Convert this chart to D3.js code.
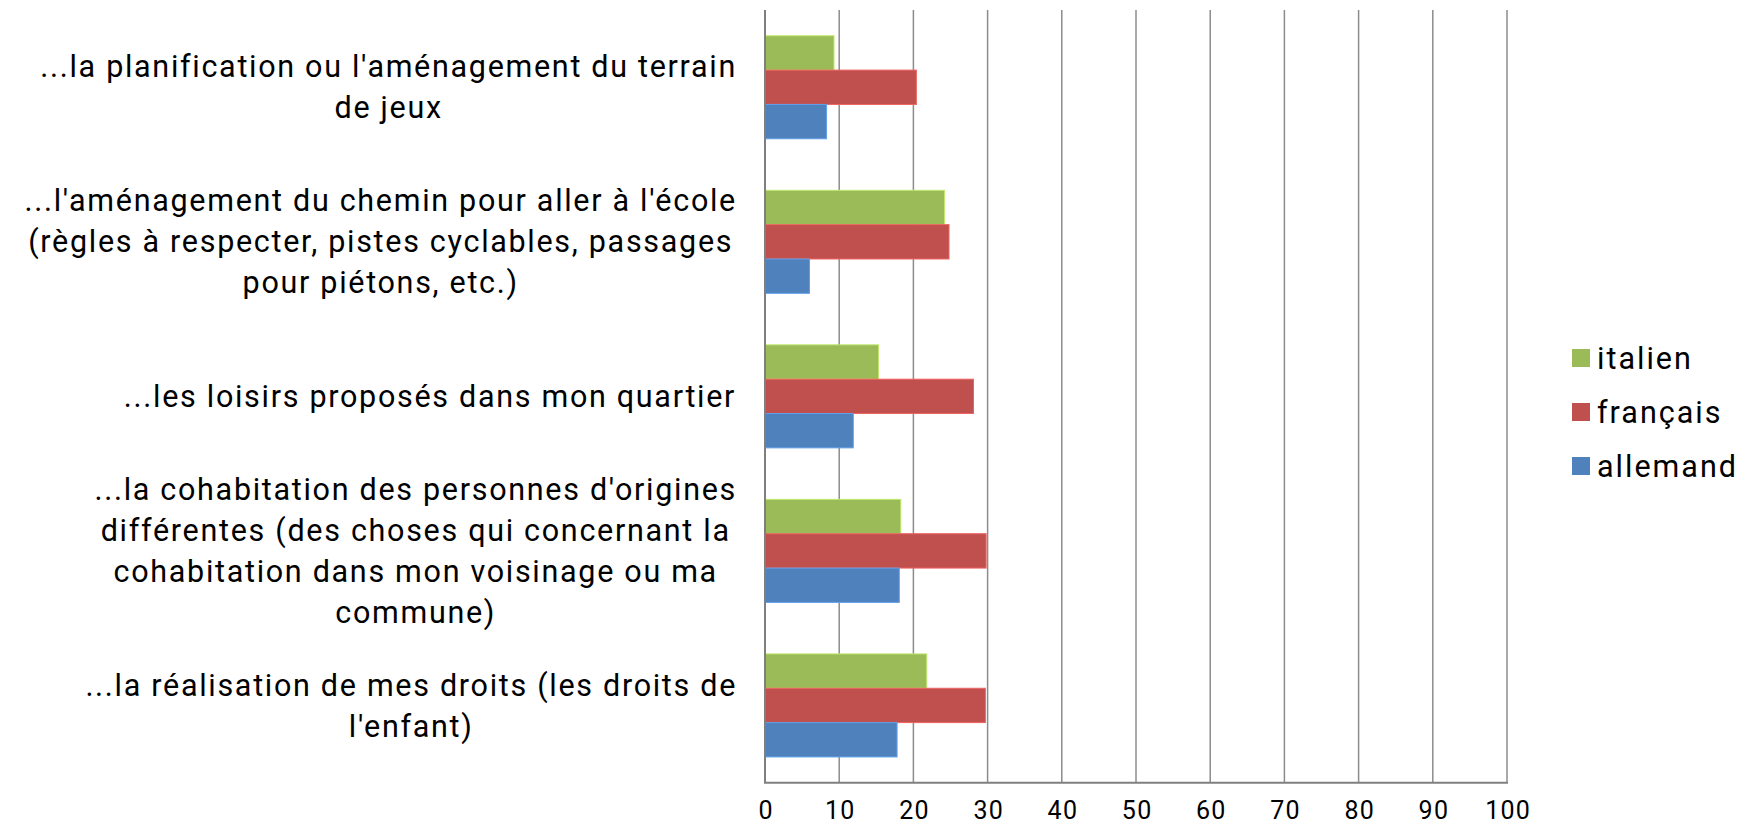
<!DOCTYPE html>
<html><head><meta charset="utf-8">
<script src="https://cdn.jsdelivr.net/npm/d3@7"></script>
<style>
html,body{margin:0;padding:0;background:#fff;}
svg{display:block;}
text{font-family:Roboto,"Liberation Sans",sans-serif;fill:#000;}
</style></head>
<body>
<svg id="chart" width="1746" height="824"></svg>
<script>
const categories = [
  ["...la planification ou l'aménagement du terrain", "de jeux"],
  ["...l'aménagement du chemin pour aller à l'école", "(règles à respecter, pistes cyclables, passages", "pour piétons, etc.)"],
  ["...les loisirs proposés dans mon quartier"],
  ["...la cohabitation des personnes d'origines", "différentes (des choses qui concernant la", "cohabitation dans mon voisinage ou ma", "commune)"],
  ["...la réalisation de mes droits (les droits de", "l'enfant)"]
];
const seriesNames = ["italien", "français", "allemand"];
const italien  = [9.3, 24.2, 15.3, 18.3, 21.8];
const francais = [20.4, 24.8, 28.1, 29.8, 29.7];
const allemand = [8.3, 6.0, 11.9, 18.1, 17.8];
const seriesColors = ["#9BBB59", "#C0504D", "#4F81BD"];
const xTicks = [0,10,20,30,40,50,60,70,80,90,100];

const seriesValues = [italien, francais, allemand];
const svg = d3.select("#chart");
const pLeft = 765, pRight = 1507, pTop = 10, pBottom = 782.7;

const x = d3.scaleLinear().domain([0,100]).range([pLeft, pRight]);
const y = d3.scaleBand().domain(d3.range(categories.length)).range([pTop, pBottom]).paddingInner(1.5/4.5).paddingOuter(0.75/4.5);
const yInner = d3.scaleBand().domain(d3.range(seriesNames.length)).range([0, y.bandwidth()]);

// gridlines
svg.append("g").selectAll("line").data(xTicks.filter(d=>d>0)).join("line")
  .attr("x1", d=>x(d)).attr("x2", d=>x(d)).attr("y1", pTop).attr("y2", pBottom)
  .attr("stroke", "#8c8c8c").attr("stroke-width", 1.5);

// bars
const g = svg.append("g");
seriesValues.forEach((vals, si) => {
  g.append("g").selectAll("rect").data(vals).join("rect")
    .attr("x", x(0))
    .attr("y", (d,i)=> y(i) + yInner(si))
    .attr("width", d => x(d) - x(0))
    .attr("height", yInner.bandwidth())
    .attr("fill", seriesColors[si])
    .attr("stroke", d3.color(seriesColors[si]).brighter(0.6))
    .attr("stroke-width", 1);
});

// axes lines
svg.append("line").attr("x1", pLeft).attr("x2", pLeft).attr("y1", pTop).attr("y2", pBottom).attr("stroke","#7f7f7f").attr("stroke-width",2);
svg.append("line").attr("x1", pLeft-1).attr("x2", pRight+1).attr("y1", pBottom).attr("y2", pBottom).attr("stroke","#7f7f7f").attr("stroke-width",2);

// x axis labels
const xAxis = d3.axisBottom(x).tickValues(xTicks).tickSize(0).tickPadding(0);
const xg = svg.append("g").attr("transform", `translate(0,${pBottom})`).call(xAxis);
xg.select(".domain").remove();
xg.selectAll("text").attr("font-size", 25).attr("font-family","Roboto").attr("fill","#000")
  .attr("letter-spacing", "1.3px").attr("dx", "0.65px").attr("dy", "0.35em").attr("y", 28);

// category labels
const lineH = 41, R = 737, C = 430;
categories.forEach((lines, i) => {
  const cy = y(i) + y.bandwidth()/2;
  const t = svg.append("text").attr("font-size", 30.5).attr("letter-spacing","1.7px").attr("text-anchor","middle");
  const spans = lines.map((ln, k) => t.append("tspan").text(ln)
    .attr("y", cy + (k - (lines.length-1)/2)*lineH).attr("dy","0.35em"));
  let maxW = 0;
  spans.forEach(s => { maxW = Math.max(maxW, s.node().getComputedTextLength()); });
  const cx = Math.min(C, R - maxW/2);
  spans.forEach(s => s.attr("x", cx));
});

// legend
const leg = svg.append("g");
seriesNames.forEach((n, i) => {
  const ly = 358 + i*54;
  leg.append("rect").attr("x", 1572).attr("y", ly-9).attr("width", 18).attr("height", 18).attr("fill", seriesColors[i]);
  leg.append("text").attr("x", 1597).attr("y", ly).attr("dy","0.35em").attr("font-size", 30.5).attr("letter-spacing","2px").text(n);
});
</script>
</body></html>
